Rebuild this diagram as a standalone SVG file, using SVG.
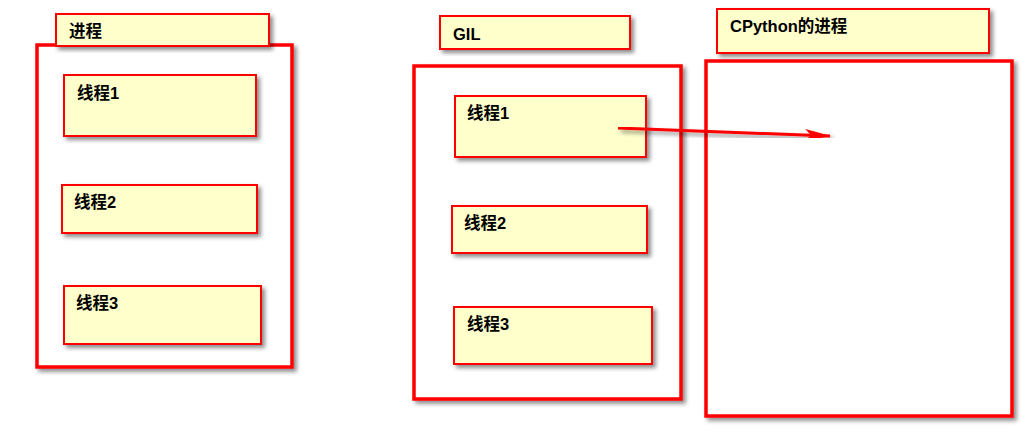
<svg xmlns="http://www.w3.org/2000/svg" width="1028" height="436" viewBox="0 0 1028 436">
<defs>
<filter id="sh" x="-10%" y="-10%" width="130%" height="130%">
<feDropShadow dx="3" dy="3" stdDeviation="2" flood-color="#000" flood-opacity="0.45"/>
</filter>
<marker id="ah" viewBox="0 0 26 12" refX="25" refY="6" markerWidth="26" markerHeight="12" markerUnits="userSpaceOnUse" orient="auto">
<path d="M0,0 L26,6 L0,12 L6,6 Z" fill="#ff0000"/>
</marker>
</defs>
<style>
.big{fill:#fff;stroke:#ff0000;stroke-width:3.5;filter:url(#sh)}
.note{fill:#ffffcc;stroke:#ff0000;stroke-width:2;filter:url(#sh)}
.t{font-family:"Liberation Sans","Noto Sans CJK SC",sans-serif;font-size:16.5px;font-weight:bold;fill:#000}
</style>
<rect width="1028" height="436" fill="#fff"/>
<g id="proc">
<rect class="big" x="37" y="45" width="255" height="322"/>
</g>
<g id="proc-title">
<rect class="note" x="56" y="14" width="213" height="32"/>
<text class="t" x="69" y="37">进程</text>
</g>
<g id="p-t1"><rect class="note" x="64" y="75" width="192" height="61"/><text class="t" x="77" y="99">线程1</text></g>
<g id="p-t2"><rect class="note" x="62" y="185" width="195" height="48"/><text class="t" x="74" y="208">线程2</text></g>
<g id="p-t3"><rect class="note" x="64" y="286" width="197" height="58"/><text class="t" x="76" y="309">线程3</text></g>

<g id="gil-box"><rect class="big" x="414" y="66" width="267" height="333"/></g>
<g id="gil-title"><rect class="note" x="440" y="16" width="190" height="33"/><text class="t" x="453" y="40" font-weight="normal">GIL</text></g>
<g id="g-t1"><rect class="note" x="455" y="96" width="191" height="61"/><text class="t" x="467" y="119">线程1</text></g>
<g id="g-t2"><rect class="note" x="452" y="206" width="195" height="47"/><text class="t" x="464" y="229">线程2</text></g>
<g id="g-t3"><rect class="note" x="454" y="307" width="198" height="57"/><text class="t" x="467" y="330">线程3</text></g>

<g id="cpy-box"><rect class="big" x="706" y="61" width="306" height="355"/></g>
<g id="cpy-title"><rect class="note" x="717" y="9" width="272" height="44"/><text class="t" x="730" y="32">CPython的进程</text></g>

<g id="connectors">
<line x1="618" y1="128" x2="830" y2="136" stroke="#ff0000" stroke-width="3" marker-end="url(#ah)" filter="url(#sh)"/>
</g>
</svg>
